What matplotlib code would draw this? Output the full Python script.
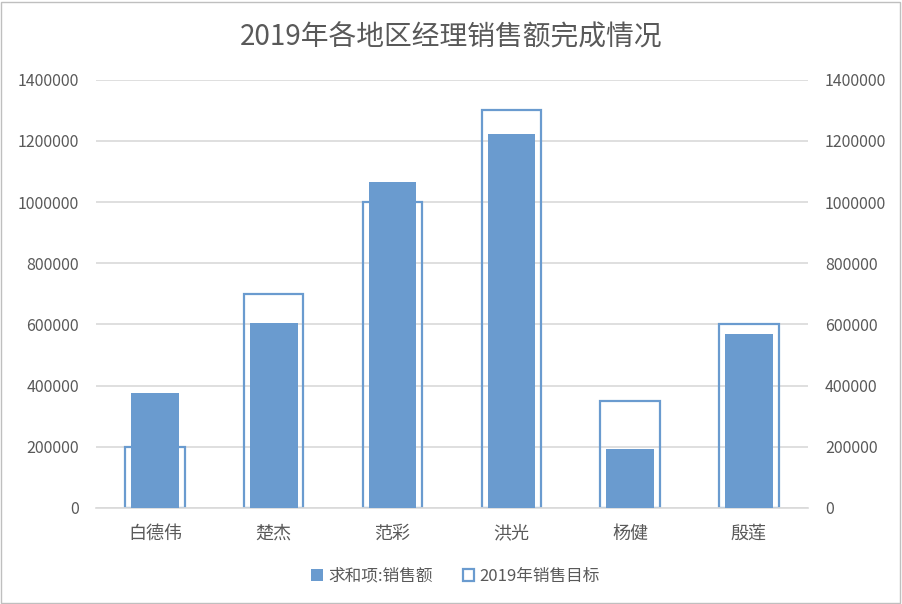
import matplotlib.pyplot as plt
from matplotlib.patches import Rectangle

plt.rcParams['font.family'] = ['Noto Sans CJK SC', 'DejaVu Sans']

# 数据
managers = ['白德伟', '楚杰', '范彩', '洪光', '杨健', '殷莲']
sales = [376000, 605000, 1066000, 1223000, 193000, 569000]
targets = [200000, 700000, 1000000, 1300000, 350000, 600000]
yticks = list(range(0, 1400001, 200000))

blue = '#6A9BCF'
text_color = '#595959'

fig = plt.figure(figsize=(9.02, 6.04), dpi=100)
ax = fig.add_axes([0.106, 0.159, 0.790, 0.709])
ax2 = ax.twinx()

x = range(len(managers))
# 目标（空心柱，次坐标）
ax.bar(x, targets, width=0.5, facecolor='none', edgecolor=blue,
       linewidth=1.6, zorder=2, label='2019年销售目标')
# 销售额（实心柱）
ax.bar(x, sales, width=0.4, color=blue, zorder=3, label='求和项:销售额')

for a in (ax, ax2):
    a.set_ylim(0, 1400000)
    a.set_yticks(yticks)
    a.set_yticklabels([str(v) for v in yticks], color=text_color, fontsize=11.5)
    a.tick_params(axis='y', length=0, pad=12)
    for s in a.spines.values():
        s.set_visible(False)

ax.set_xlim(-0.5, len(managers) - 0.5)
ax.set_xticks(list(x))
ax.set_xticklabels(managers, color=text_color, fontsize=13)
ax.tick_params(axis='x', length=0, pad=12)
ax.grid(axis='y', color='#D9D9D9', linewidth=1.2, zorder=0)
ax.set_axisbelow(True)
ax.spines['bottom'].set_visible(True)
ax.spines['bottom'].set_color('#D9D9D9')
ax.spines['bottom'].set_linewidth(1.2)

fig.suptitle('2019年各地区经理销售额完成情况', fontsize=20, color=text_color, y=0.962)

handles, labels = ax.get_legend_handles_labels()
fig.legend(handles[::-1], labels[::-1], loc='center', bbox_to_anchor=(0.505, 0.046),
           ncol=2, frameon=False, fontsize=12, handlelength=0.7, handleheight=0.7,
           handletextpad=0.3, columnspacing=1.8, labelcolor=text_color)

# 图表外框
fig.patches.append(Rectangle((0.001, 0.002), 0.997, 0.995, transform=fig.transFigure,
                             fill=False, edgecolor='#BFBFBF', linewidth=1))

plt.savefig('out.png', dpi=100)
